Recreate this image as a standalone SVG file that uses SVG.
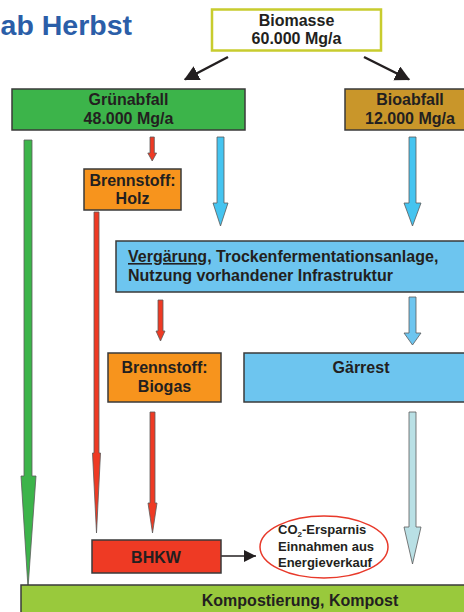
<svg xmlns="http://www.w3.org/2000/svg" width="464" height="612" viewBox="0 0 464 612">
<defs>
<style>
text{font-family:"Liberation Sans",Arial,Helvetica,sans-serif;font-weight:bold;fill:#231f20;}
.t{font-size:16px;text-anchor:middle;}
.box{stroke:#3a3a3a;stroke-width:1.5;}
.blk{stroke:#231f20;stroke-width:2.5;fill:none;}
.ar{stroke:#5a5a5a;stroke-width:0.8;}
</style>
<marker id="ah" markerWidth="7" markerHeight="7" refX="5.5" refY="3" orient="auto" markerUnits="strokeWidth">
<path d="M0,-0.1 L6,3 L0,6.1 Z" fill="#231f20"/>
</marker>
<marker id="ah2" markerWidth="10" markerHeight="10" refX="8" refY="4" orient="auto" markerUnits="strokeWidth">
<path d="M0,0 L8,4 L0,8 Z" fill="#231f20"/>
</marker>
</defs>
<rect width="464" height="612" fill="#ffffff"/>
<text x="132" y="35" style="font-size:28.5px;fill:#2b5ea8;text-anchor:end">ab Herbst</text>

<g id="connectors">
<line class="blk" x1="228" y1="57" x2="185" y2="79.5" marker-end="url(#ah)"/>
<line class="blk" x1="364" y1="57" x2="409" y2="79.5" marker-end="url(#ah)"/>
<polygon class="ar" fill="#3cb44a" points="24,140 32,140 32,476 36,476 28,588 21,476 24,476"/>
<polygon class="ar" fill="#ee3a24" points="150,137 154.3,137 154.3,153 156.6,153 152.2,161 147.8,153 150,153"/>
<polygon class="ar" fill="#45c4f0" points="217,137 224,137 224,203 228,203 220.5,226 213,203 217,203"/>
<polygon class="ar" fill="#45c4f0" points="409,137 416,137 416,203 421,203 412.5,226 404,203 409,203"/>
<polygon class="ar" fill="#ee3a24" points="94,212 99,212 99,453 100.5,453 96.5,533 92.5,453 94,453"/>
<polygon class="ar" fill="#ee3a24" points="158,300 163,300 163,331 165,331 160.5,341 156,331 158,331"/>
<polygon class="ar" fill="#6dc5ef" points="409,297 416,297 416,333 421,333 412.5,345 404,333 409,333"/>
<polygon class="ar" fill="#ee3a24" points="150,412 155,412 155,503 157,503 152.5,533 148,503 150,503"/>
<polygon class="ar" fill="#b9e0e5" points="409,412 416,412 416,527 421,527 412.5,564 404,527 409,527"/>
<line x1="189" y1="556" x2="256" y2="556" stroke="#231f20" stroke-width="1.5" marker-end="url(#ah2)"/>
</g>

<g id="biomasse">
<rect x="212" y="9.5" width="169" height="41" fill="#ffffff" stroke="#c8cc2e" stroke-width="2.5"/>
<text class="t" x="296.5" y="26">Biomasse</text>
<text class="t" x="296.5" y="44">60.000 Mg/a</text>
</g>
<g id="gruenabfall">
<rect class="box" x="12" y="89" width="233" height="41" fill="#3cb44a"/>
<text class="t" x="128.5" y="105">Grünabfall</text>
<text class="t" x="128.5" y="124">48.000 Mg/a</text>
</g>
<g id="bioabfall">
<rect class="box" x="345" y="89" width="130" height="41" fill="#c9962a"/>
<text class="t" x="410" y="105">Bioabfall</text>
<text class="t" x="410" y="124">12.000 Mg/a</text>
</g>
<g id="holz">
<rect class="box" x="84" y="169" width="97" height="41" fill="#f7941d"/>
<text class="t" x="132.5" y="186">Brennstoff:</text>
<text class="t" x="132.5" y="204">Holz</text>
</g>
<g id="vergaerung">
<rect class="box" x="116" y="241" width="362" height="51" fill="#6dc5ef"/>
<text x="128" y="262" style="font-size:16px"><tspan text-decoration="underline">Vergärung</tspan>, Trockenfermentationsanlage,</text>
<text x="128" y="281" style="font-size:16px">Nutzung vorhandener Infrastruktur</text>
</g>
<g id="biogas">
<rect class="box" x="108" y="353" width="113" height="49" fill="#f7941d"/>
<text class="t" x="164.5" y="373">Brennstoff:</text>
<text class="t" x="164.5" y="392">Biogas</text>
</g>
<g id="gaerrest">
<rect class="box" x="244" y="353" width="234" height="49" fill="#6dc5ef"/>
<text class="t" x="361" y="373">Gärrest</text>
</g>
<g id="bhkw">
<rect class="box" x="92" y="540" width="129" height="33" fill="#ee3a24"/>
<text class="t" x="156" y="563">BHKW</text>
</g>
<g id="ersparnis">
<ellipse cx="324" cy="547" rx="64" ry="31" fill="#ffffff" stroke="#e8392a" stroke-width="1.5"/>
<text x="278" y="534" style="font-size:13px">CO<tspan style="font-size:8px" dy="3">2</tspan><tspan dy="-3">-Ersparnis</tspan></text>
<text x="278" y="550.5" style="font-size:13px">Einnahmen aus</text>
<text x="278" y="567" style="font-size:13px">Energieverkauf</text>
</g>
<g id="kompost">
<rect class="box" x="21" y="585" width="558" height="40" fill="#99c93c"/>
<text class="t" x="300" y="606">Kompostierung, Kompost</text>
</g>
</svg>
